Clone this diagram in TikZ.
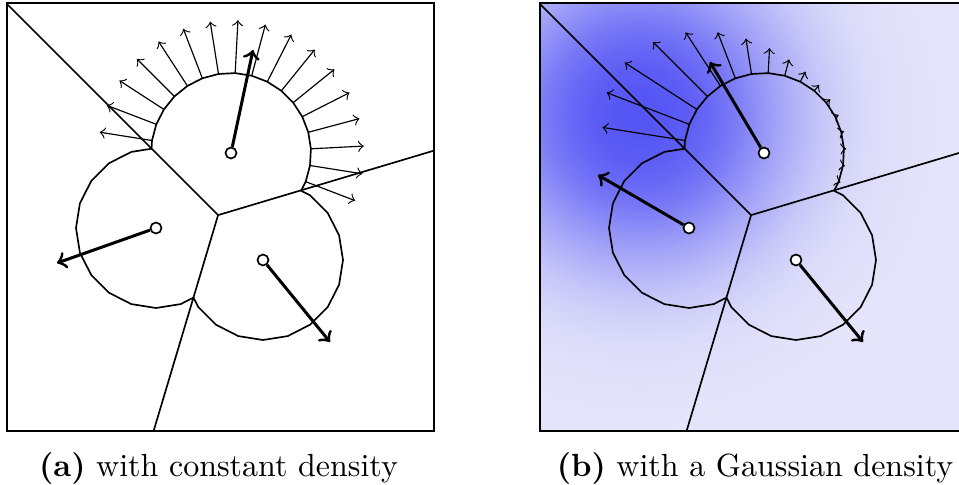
\documentclass[tikz,border=0pt]{standalone}
\usepackage{tikz}
\definecolor{densbg}{RGB}{228,228,250}
\definecolor{densdark}{RGB}{85,85,245}
\pgfdeclareradialshading{gaussdens}{\pgfpoint{0bp}{0bp}}{%
  color(0bp)=(densdark);
  color(1.9bp)=(densdark!99!densbg);
  color(3.8bp)=(densdark!95!densbg);
  color(5.7bp)=(densdark!87!densbg);
  color(7.7bp)=(densdark!75!densbg);
  color(9.6bp)=(densdark!60!densbg);
  color(11.5bp)=(densdark!45!densbg);
  color(13.4bp)=(densdark!32!densbg);
  color(15.3bp)=(densdark!20!densbg);
  color(17.2bp)=(densdark!12!densbg);
  color(19.2bp)=(densdark!6!densbg);
  color(21.1bp)=(densdark!3!densbg);
  color(24bp)=(densdark!1!densbg);
  color(25bp)=(densbg);
  color(50bp)=(densbg)}
\newcommand{\voronoicells}{%
  \coordinate (v) at (218.1,215.1);
  \coordinate (ea) at (7,4);
  \coordinate (eb) at (434,150.6);
  \coordinate (ec) at (153.6,431);
  \begin{scope}
    \clip (v) -- (ea) -- (7,3) -- (434,3) -- (eb) -- cycle;
    \draw[cell] plot[domain=3:363,samples=31] ({231+80*cos(\x)},{153-80*sin(\x)});
  \end{scope}
  \begin{scope}
    \clip (v) -- (ea) -- (7,431) -- (ec) -- cycle;
    \draw[cell] plot[domain=0:360,samples=21] ({156+80*cos(\x)},{228-80*sin(\x)});
  \end{scope}
  \begin{scope}
    \clip (v) -- (eb) -- (434,431) -- (ec) -- cycle;
    \draw[cell] plot[domain=0:360,samples=21] ({263+80*cos(\x)},{260-80*sin(\x)});
  \end{scope}
  \draw[cell] (ea) -- (v) -- (eb) (v) -- (ec);
  \draw[frame] (7,3) rectangle (434,431);
}
\begin{document}
\begin{tikzpicture}[x=0.3pt,y=-0.3pt,>=to,
  frame/.style={line width=0.6pt},
  cell/.style={line width=0.5pt,line join=round},
  grad/.style={->,line width=0.35pt},
  move/.style={->,line width=0.9pt},
  seed/.style={circle,draw,fill=white,line width=0.5pt,inner sep=0pt,minimum size=3.3pt},
  caption/.style={anchor=base,font=\fontsize{9.6}{11}\selectfont}]
\useasboundingbox (0,0) rectangle (959,484);
% (a) constant density
\voronoicells
\foreach \k in {-2,...,14}{
  \draw[grad] ({231+80*cos(3+12*\k)},{153-80*sin(3+12*\k)}) -- ++({53*cos(3+12*\k)},{-53*sin(3+12*\k)});
}
\node[seed] (s1) at (231,153) {};
\node[seed] (s2) at (156,228) {};
\node[seed] (s3) at (263,260) {};
\coordinate (t1) at (253,50);
\coordinate (t2) at (57,263);
\coordinate (t3) at (330,342);
\draw[move] (s1) -- (t1);
\draw[move] (s2) -- (t2);
\draw[move] (s3) -- (t3);
\node[caption] (capa) at (218.5,476) {\textbf{(a)} with constant density};
% (b) Gaussian density
\begin{scope}[shift={(533,0)}]
\fill[densbg] (7,3) rectangle (434,431);
\begin{scope}
  \clip (7,3) rectangle (434,431);
  \shade[shading=gaussdens] (107,115) circle (300);
\end{scope}
\voronoicells
\foreach \k in {-2,...,14}{
  \pgfmathsetmacro{\ang}{3+12*\k}
  \pgfmathsetmacro{\px}{231+80*cos(\ang)}
  \pgfmathsetmacro{\py}{153-80*sin(\ang)}
  \pgfmathsetmacro{\len}{97.6*exp(-(((\px-130)/100)^2+((\py-110)/100)^2)/0.9124)}
  \draw[grad] (\px,\py) -- ++({\len*cos(\ang)},{-\len*sin(\ang)});
}
\node[seed] (u1) at (231,153) {};
\node[seed] (u2) at (156,228) {};
\node[seed] (u3) at (263,260) {};
\coordinate (w1) at (177,62);
\coordinate (w2) at (65,175);
\coordinate (w3) at (330,342);
\draw[move] (u1) -- (w1);
\draw[move] (u2) -- (w2);
\draw[move] (u3) -- (w3);
\node[caption] (capb) at (222,476) {\textbf{(b)} with a Gaussian density};
\end{scope}
\end{tikzpicture}
\end{document}
